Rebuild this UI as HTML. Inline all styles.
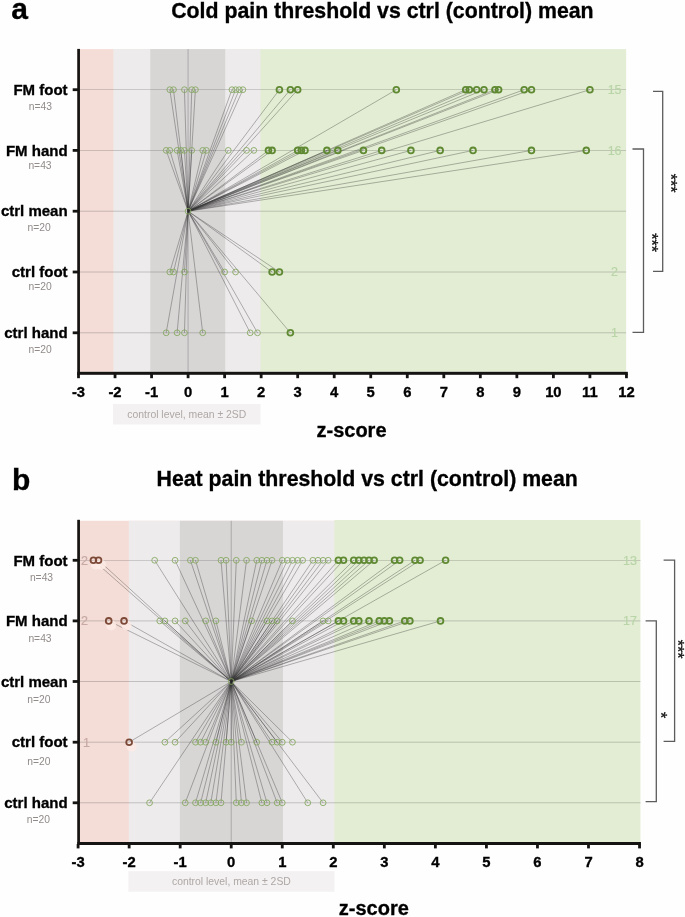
<!DOCTYPE html>
<html lang="en"><head><meta charset="utf-8"><title>Pain threshold z-scores</title>
<style>
html,body{margin:0;padding:0;background:#fefefe;}
body{width:685px;height:917px;overflow:hidden;}
svg{display:block;font-family:'Liberation Sans', Arial, Helvetica, sans-serif;}
</style></head><body>
<svg width="685" height="917" viewBox="0 0 685 917">
<rect width="685" height="917" fill="#fefefe"/>
<g id="panel-a">
<rect x="77.30" y="49.10" width="184.20" height="322.70" fill="#f5ddd7"/>
<rect x="113.40" y="49.10" width="148.10" height="322.70" fill="#edebeb"/>
<rect x="150.30" y="49.10" width="74.90" height="322.70" fill="#d8d5d5"/>
<rect x="260.50" y="49.10" width="365.60" height="322.70" fill="#e3edd4"/>
<rect x="113.00" y="404.00" width="147.50" height="20.5" fill="#f3f1f1"/>
<text x="186.75" y="418.20" font-size="10.4" fill="#aea7a6" text-anchor="middle">control level, mean ± 2SD</text>
<line x1="188.09" y1="49.1" x2="188.09" y2="371.8" stroke="#989696" stroke-width="0.7"/>
<line x1="78.50" y1="89.7" x2="626.10" y2="89.7" stroke="#4a4a4a" stroke-width="0.55" opacity="0.5"/>
<line x1="78.50" y1="150.4" x2="626.10" y2="150.4" stroke="#4a4a4a" stroke-width="0.55" opacity="0.5"/>
<line x1="78.50" y1="211.2" x2="626.10" y2="211.2" stroke="#4a4a4a" stroke-width="0.55" opacity="0.5"/>
<line x1="78.50" y1="272.0" x2="626.10" y2="272.0" stroke="#4a4a4a" stroke-width="0.55" opacity="0.5"/>
<line x1="78.50" y1="332.8" x2="626.10" y2="332.8" stroke="#4a4a4a" stroke-width="0.55" opacity="0.5"/>
<g stroke="#0c0c0c" stroke-width="0.37" fill="none" opacity="0.8">
<line x1="188.09" y1="211.2" x2="169.82" y2="89.7"/>
<line x1="188.09" y1="211.2" x2="173.48" y2="89.7"/>
<line x1="188.09" y1="211.2" x2="184.44" y2="89.7"/>
<line x1="188.09" y1="211.2" x2="191.74" y2="89.7"/>
<line x1="188.09" y1="211.2" x2="195.40" y2="89.7"/>
<line x1="188.09" y1="211.2" x2="231.93" y2="89.7"/>
<line x1="188.09" y1="211.2" x2="235.58" y2="89.7"/>
<line x1="188.09" y1="211.2" x2="239.23" y2="89.7"/>
<line x1="188.09" y1="211.2" x2="242.88" y2="89.7"/>
<line x1="188.09" y1="211.2" x2="279.42" y2="89.7"/>
<line x1="188.09" y1="211.2" x2="290.37" y2="89.7"/>
<line x1="188.09" y1="211.2" x2="297.68" y2="89.7"/>
<line x1="188.09" y1="211.2" x2="396.31" y2="89.7"/>
<line x1="188.09" y1="211.2" x2="465.72" y2="89.7"/>
<line x1="188.09" y1="211.2" x2="469.37" y2="89.7"/>
<line x1="188.09" y1="211.2" x2="476.68" y2="89.7"/>
<line x1="188.09" y1="211.2" x2="483.98" y2="89.7"/>
<line x1="188.09" y1="211.2" x2="494.94" y2="89.7"/>
<line x1="188.09" y1="211.2" x2="498.60" y2="89.7"/>
<line x1="188.09" y1="211.2" x2="524.17" y2="89.7"/>
<line x1="188.09" y1="211.2" x2="531.47" y2="89.7"/>
<line x1="188.09" y1="211.2" x2="589.92" y2="89.7"/>
<line x1="188.09" y1="211.2" x2="166.17" y2="150.4"/>
<line x1="188.09" y1="211.2" x2="169.82" y2="150.4"/>
<line x1="188.09" y1="211.2" x2="177.13" y2="150.4"/>
<line x1="188.09" y1="211.2" x2="180.78" y2="150.4"/>
<line x1="188.09" y1="211.2" x2="184.44" y2="150.4"/>
<line x1="188.09" y1="211.2" x2="191.74" y2="150.4"/>
<line x1="188.09" y1="211.2" x2="202.70" y2="150.4"/>
<line x1="188.09" y1="211.2" x2="206.36" y2="150.4"/>
<line x1="188.09" y1="211.2" x2="228.27" y2="150.4"/>
<line x1="188.09" y1="211.2" x2="246.54" y2="150.4"/>
<line x1="188.09" y1="211.2" x2="253.84" y2="150.4"/>
<line x1="188.09" y1="211.2" x2="268.46" y2="150.4"/>
<line x1="188.09" y1="211.2" x2="272.11" y2="150.4"/>
<line x1="188.09" y1="211.2" x2="297.68" y2="150.4"/>
<line x1="188.09" y1="211.2" x2="301.33" y2="150.4"/>
<line x1="188.09" y1="211.2" x2="304.99" y2="150.4"/>
<line x1="188.09" y1="211.2" x2="326.90" y2="150.4"/>
<line x1="188.09" y1="211.2" x2="337.86" y2="150.4"/>
<line x1="188.09" y1="211.2" x2="363.43" y2="150.4"/>
<line x1="188.09" y1="211.2" x2="381.70" y2="150.4"/>
<line x1="188.09" y1="211.2" x2="410.92" y2="150.4"/>
<line x1="188.09" y1="211.2" x2="440.15" y2="150.4"/>
<line x1="188.09" y1="211.2" x2="473.02" y2="150.4"/>
<line x1="188.09" y1="211.2" x2="531.47" y2="150.4"/>
<line x1="188.09" y1="211.2" x2="586.27" y2="150.4"/>
<line x1="188.09" y1="211.2" x2="169.82" y2="272.0"/>
<line x1="188.09" y1="211.2" x2="173.48" y2="272.0"/>
<line x1="188.09" y1="211.2" x2="184.44" y2="272.0"/>
<line x1="188.09" y1="211.2" x2="224.62" y2="272.0"/>
<line x1="188.09" y1="211.2" x2="235.58" y2="272.0"/>
<line x1="188.09" y1="211.2" x2="272.11" y2="272.0"/>
<line x1="188.09" y1="211.2" x2="279.42" y2="272.0"/>
<line x1="188.09" y1="211.2" x2="166.17" y2="332.8"/>
<line x1="188.09" y1="211.2" x2="177.13" y2="332.8"/>
<line x1="188.09" y1="211.2" x2="184.44" y2="332.8"/>
<line x1="188.09" y1="211.2" x2="202.70" y2="332.8"/>
<line x1="188.09" y1="211.2" x2="250.19" y2="332.8"/>
<line x1="188.09" y1="211.2" x2="257.50" y2="332.8"/>
<line x1="188.09" y1="211.2" x2="290.37" y2="332.8"/>
</g>
<text x="614.6" y="94.10" font-size="12.5" fill="#b9d5a8" stroke="#b9d5a8" stroke-width="0.2" text-anchor="middle">15</text>
<text x="614.6" y="154.80" font-size="12.5" fill="#b9d5a8" stroke="#b9d5a8" stroke-width="0.2" text-anchor="middle">16</text>
<text x="614.6" y="276.40" font-size="12.5" fill="#b9d5a8" stroke="#b9d5a8" stroke-width="0.2" text-anchor="middle">2</text>
<text x="614.6" y="337.20" font-size="12.5" fill="#b9d5a8" stroke="#b9d5a8" stroke-width="0.2" text-anchor="middle">1</text>
<circle cx="169.82" cy="89.7" r="2.9" fill="none" stroke="#82a65c" stroke-width="0.85"/>
<circle cx="173.48" cy="89.7" r="2.9" fill="none" stroke="#82a65c" stroke-width="0.85"/>
<circle cx="184.44" cy="89.7" r="2.9" fill="none" stroke="#82a65c" stroke-width="0.85"/>
<circle cx="191.74" cy="89.7" r="2.9" fill="none" stroke="#82a65c" stroke-width="0.85"/>
<circle cx="195.40" cy="89.7" r="2.9" fill="none" stroke="#82a65c" stroke-width="0.85"/>
<circle cx="231.93" cy="89.7" r="2.9" fill="none" stroke="#82a65c" stroke-width="0.85"/>
<circle cx="235.58" cy="89.7" r="2.9" fill="none" stroke="#82a65c" stroke-width="0.85"/>
<circle cx="239.23" cy="89.7" r="2.9" fill="none" stroke="#82a65c" stroke-width="0.85"/>
<circle cx="242.88" cy="89.7" r="2.9" fill="none" stroke="#82a65c" stroke-width="0.85"/>
<circle cx="279.42" cy="89.7" r="2.9" fill="none" stroke="#5f8a32" stroke-width="1.8"/>
<circle cx="290.37" cy="89.7" r="2.9" fill="none" stroke="#5f8a32" stroke-width="1.8"/>
<circle cx="297.68" cy="89.7" r="2.9" fill="none" stroke="#5f8a32" stroke-width="1.8"/>
<circle cx="396.31" cy="89.7" r="2.9" fill="none" stroke="#5f8a32" stroke-width="1.8"/>
<circle cx="465.72" cy="89.7" r="2.9" fill="none" stroke="#5f8a32" stroke-width="1.8"/>
<circle cx="469.37" cy="89.7" r="2.9" fill="none" stroke="#5f8a32" stroke-width="1.8"/>
<circle cx="476.68" cy="89.7" r="2.9" fill="none" stroke="#5f8a32" stroke-width="1.8"/>
<circle cx="483.98" cy="89.7" r="2.9" fill="none" stroke="#5f8a32" stroke-width="1.8"/>
<circle cx="494.94" cy="89.7" r="2.9" fill="none" stroke="#5f8a32" stroke-width="1.8"/>
<circle cx="498.60" cy="89.7" r="2.9" fill="none" stroke="#5f8a32" stroke-width="1.8"/>
<circle cx="524.17" cy="89.7" r="2.9" fill="none" stroke="#5f8a32" stroke-width="1.8"/>
<circle cx="531.47" cy="89.7" r="2.9" fill="none" stroke="#5f8a32" stroke-width="1.8"/>
<circle cx="589.92" cy="89.7" r="2.9" fill="none" stroke="#5f8a32" stroke-width="1.8"/>
<circle cx="166.17" cy="150.4" r="2.9" fill="none" stroke="#82a65c" stroke-width="0.85"/>
<circle cx="169.82" cy="150.4" r="2.9" fill="none" stroke="#82a65c" stroke-width="0.85"/>
<circle cx="177.13" cy="150.4" r="2.9" fill="none" stroke="#82a65c" stroke-width="0.85"/>
<circle cx="180.78" cy="150.4" r="2.9" fill="none" stroke="#82a65c" stroke-width="0.85"/>
<circle cx="184.44" cy="150.4" r="2.9" fill="none" stroke="#82a65c" stroke-width="0.85"/>
<circle cx="191.74" cy="150.4" r="2.9" fill="none" stroke="#82a65c" stroke-width="0.85"/>
<circle cx="202.70" cy="150.4" r="2.9" fill="none" stroke="#82a65c" stroke-width="0.85"/>
<circle cx="206.36" cy="150.4" r="2.9" fill="none" stroke="#82a65c" stroke-width="0.85"/>
<circle cx="228.27" cy="150.4" r="2.9" fill="none" stroke="#82a65c" stroke-width="0.85"/>
<circle cx="246.54" cy="150.4" r="2.9" fill="none" stroke="#82a65c" stroke-width="0.85"/>
<circle cx="253.84" cy="150.4" r="2.9" fill="none" stroke="#82a65c" stroke-width="0.85"/>
<circle cx="268.46" cy="150.4" r="2.9" fill="none" stroke="#5f8a32" stroke-width="1.8"/>
<circle cx="272.11" cy="150.4" r="2.9" fill="none" stroke="#5f8a32" stroke-width="1.8"/>
<circle cx="297.68" cy="150.4" r="2.9" fill="none" stroke="#5f8a32" stroke-width="1.8"/>
<circle cx="301.33" cy="150.4" r="2.9" fill="none" stroke="#5f8a32" stroke-width="1.8"/>
<circle cx="304.99" cy="150.4" r="2.9" fill="none" stroke="#5f8a32" stroke-width="1.8"/>
<circle cx="326.90" cy="150.4" r="2.9" fill="none" stroke="#5f8a32" stroke-width="1.8"/>
<circle cx="337.86" cy="150.4" r="2.9" fill="none" stroke="#5f8a32" stroke-width="1.8"/>
<circle cx="363.43" cy="150.4" r="2.9" fill="none" stroke="#5f8a32" stroke-width="1.8"/>
<circle cx="381.70" cy="150.4" r="2.9" fill="none" stroke="#5f8a32" stroke-width="1.8"/>
<circle cx="410.92" cy="150.4" r="2.9" fill="none" stroke="#5f8a32" stroke-width="1.8"/>
<circle cx="440.15" cy="150.4" r="2.9" fill="none" stroke="#5f8a32" stroke-width="1.8"/>
<circle cx="473.02" cy="150.4" r="2.9" fill="none" stroke="#5f8a32" stroke-width="1.8"/>
<circle cx="531.47" cy="150.4" r="2.9" fill="none" stroke="#5f8a32" stroke-width="1.8"/>
<circle cx="586.27" cy="150.4" r="2.9" fill="none" stroke="#5f8a32" stroke-width="1.8"/>
<circle cx="169.82" cy="272.0" r="2.9" fill="none" stroke="#82a65c" stroke-width="0.85"/>
<circle cx="173.48" cy="272.0" r="2.9" fill="none" stroke="#82a65c" stroke-width="0.85"/>
<circle cx="184.44" cy="272.0" r="2.9" fill="none" stroke="#82a65c" stroke-width="0.85"/>
<circle cx="224.62" cy="272.0" r="2.9" fill="none" stroke="#82a65c" stroke-width="0.85"/>
<circle cx="235.58" cy="272.0" r="2.9" fill="none" stroke="#82a65c" stroke-width="0.85"/>
<circle cx="272.11" cy="272.0" r="2.9" fill="none" stroke="#5f8a32" stroke-width="1.8"/>
<circle cx="279.42" cy="272.0" r="2.9" fill="none" stroke="#5f8a32" stroke-width="1.8"/>
<circle cx="166.17" cy="332.8" r="2.9" fill="none" stroke="#82a65c" stroke-width="0.85"/>
<circle cx="177.13" cy="332.8" r="2.9" fill="none" stroke="#82a65c" stroke-width="0.85"/>
<circle cx="184.44" cy="332.8" r="2.9" fill="none" stroke="#82a65c" stroke-width="0.85"/>
<circle cx="202.70" cy="332.8" r="2.9" fill="none" stroke="#82a65c" stroke-width="0.85"/>
<circle cx="250.19" cy="332.8" r="2.9" fill="none" stroke="#82a65c" stroke-width="0.85"/>
<circle cx="257.50" cy="332.8" r="2.9" fill="none" stroke="#82a65c" stroke-width="0.85"/>
<circle cx="290.37" cy="332.8" r="2.9" fill="none" stroke="#5f8a32" stroke-width="1.8"/>
<circle cx="188.09" cy="211.2" r="2.9" fill="none" stroke="#82a65c" stroke-width="0.85"/>
<rect x="77.25" y="48.90" width="2.7" height="325.90" fill="#161413"/>
<rect x="77.25" y="371.80" width="550.60" height="3" fill="#161413"/>
<rect x="77.10" y="373.80" width="2.8" height="4.4" fill="#161413"/>
<text x="78.50" y="397.2" font-size="14.8" font-weight="bold" fill="#000" stroke="#000" stroke-width="0.32" text-anchor="middle">-3</text>
<rect x="113.63" y="373.80" width="2.8" height="4.4" fill="#161413"/>
<text x="115.03" y="397.2" font-size="14.8" font-weight="bold" fill="#000" stroke="#000" stroke-width="0.32" text-anchor="middle">-2</text>
<rect x="150.16" y="373.80" width="2.8" height="4.4" fill="#161413"/>
<text x="151.56" y="397.2" font-size="14.8" font-weight="bold" fill="#000" stroke="#000" stroke-width="0.32" text-anchor="middle">-1</text>
<rect x="186.69" y="373.80" width="2.8" height="4.4" fill="#161413"/>
<text x="188.09" y="397.2" font-size="14.8" font-weight="bold" fill="#000" stroke="#000" stroke-width="0.32" text-anchor="middle">0</text>
<rect x="223.22" y="373.80" width="2.8" height="4.4" fill="#161413"/>
<text x="224.62" y="397.2" font-size="14.8" font-weight="bold" fill="#000" stroke="#000" stroke-width="0.32" text-anchor="middle">1</text>
<rect x="259.75" y="373.80" width="2.8" height="4.4" fill="#161413"/>
<text x="261.15" y="397.2" font-size="14.8" font-weight="bold" fill="#000" stroke="#000" stroke-width="0.32" text-anchor="middle">2</text>
<rect x="296.28" y="373.80" width="2.8" height="4.4" fill="#161413"/>
<text x="297.68" y="397.2" font-size="14.8" font-weight="bold" fill="#000" stroke="#000" stroke-width="0.32" text-anchor="middle">3</text>
<rect x="332.81" y="373.80" width="2.8" height="4.4" fill="#161413"/>
<text x="334.21" y="397.2" font-size="14.8" font-weight="bold" fill="#000" stroke="#000" stroke-width="0.32" text-anchor="middle">4</text>
<rect x="369.34" y="373.80" width="2.8" height="4.4" fill="#161413"/>
<text x="370.74" y="397.2" font-size="14.8" font-weight="bold" fill="#000" stroke="#000" stroke-width="0.32" text-anchor="middle">5</text>
<rect x="405.87" y="373.80" width="2.8" height="4.4" fill="#161413"/>
<text x="407.27" y="397.2" font-size="14.8" font-weight="bold" fill="#000" stroke="#000" stroke-width="0.32" text-anchor="middle">6</text>
<rect x="442.40" y="373.80" width="2.8" height="4.4" fill="#161413"/>
<text x="443.80" y="397.2" font-size="14.8" font-weight="bold" fill="#000" stroke="#000" stroke-width="0.32" text-anchor="middle">7</text>
<rect x="478.93" y="373.80" width="2.8" height="4.4" fill="#161413"/>
<text x="480.33" y="397.2" font-size="14.8" font-weight="bold" fill="#000" stroke="#000" stroke-width="0.32" text-anchor="middle">8</text>
<rect x="515.46" y="373.80" width="2.8" height="4.4" fill="#161413"/>
<text x="516.86" y="397.2" font-size="14.8" font-weight="bold" fill="#000" stroke="#000" stroke-width="0.32" text-anchor="middle">9</text>
<rect x="551.99" y="373.80" width="2.8" height="4.4" fill="#161413"/>
<text x="553.39" y="397.2" font-size="14.8" font-weight="bold" fill="#000" stroke="#000" stroke-width="0.32" text-anchor="middle">10</text>
<rect x="588.52" y="373.80" width="2.8" height="4.4" fill="#161413"/>
<text x="589.92" y="397.2" font-size="14.8" font-weight="bold" fill="#000" stroke="#000" stroke-width="0.32" text-anchor="middle">11</text>
<rect x="625.05" y="373.80" width="2.8" height="4.4" fill="#161413"/>
<text x="626.45" y="397.2" font-size="14.8" font-weight="bold" fill="#000" stroke="#000" stroke-width="0.32" text-anchor="middle">12</text>
<rect x="72.70" y="88.30" width="5.5" height="2.8" fill="#161413"/>
<text x="67.6" y="94.90" font-size="15" font-weight="bold" fill="#000" stroke="#000" stroke-width="0.32" text-anchor="end">FM foot</text>
<text x="40.30" y="109.90" font-size="10.3" fill="#918b89" text-anchor="middle">n=43</text>
<rect x="72.70" y="149.00" width="5.5" height="2.8" fill="#161413"/>
<text x="67.6" y="155.60" font-size="15" font-weight="bold" fill="#000" stroke="#000" stroke-width="0.32" text-anchor="end">FM hand</text>
<text x="40.00" y="169.20" font-size="10.3" fill="#918b89" text-anchor="middle">n=43</text>
<rect x="72.70" y="209.80" width="5.5" height="2.8" fill="#161413"/>
<text x="67.6" y="216.40" font-size="15" font-weight="bold" fill="#000" stroke="#000" stroke-width="0.32" text-anchor="end">ctrl mean</text>
<text x="39.10" y="231.30" font-size="10.3" fill="#918b89" text-anchor="middle">n=20</text>
<rect x="72.70" y="270.60" width="5.5" height="2.8" fill="#161413"/>
<text x="67.6" y="277.20" font-size="15" font-weight="bold" fill="#000" stroke="#000" stroke-width="0.32" text-anchor="end">ctrl foot</text>
<text x="40.10" y="290.40" font-size="10.3" fill="#918b89" text-anchor="middle">n=20</text>
<rect x="72.70" y="331.40" width="5.5" height="2.8" fill="#161413"/>
<text x="67.6" y="338.00" font-size="15" font-weight="bold" fill="#000" stroke="#000" stroke-width="0.32" text-anchor="end">ctrl hand</text>
<text x="40.10" y="353.00" font-size="10.3" fill="#918b89" text-anchor="middle">n=20</text>
<text x="11.3" y="18.6" font-size="30" font-weight="bold" fill="#000" stroke="#000" stroke-width="0.32">a</text>
<text x="171.2" y="18.2" font-size="21.3" font-weight="bold" fill="#000" stroke="#000" stroke-width="0.32">Cold pain threshold vs ctrl (control) mean</text>
<text x="351.5" y="436.6" font-size="20" font-weight="bold" fill="#000" stroke="#000" stroke-width="0.32" text-anchor="middle">z-score</text>
<path d="M653 91.4 H662.7 V271.3 H653" fill="none" stroke="#5c5c5c" stroke-width="1.3"/>
<text transform="translate(665.1 183.2) rotate(90)" font-size="16" fill="#111" stroke="#111" stroke-width="0.3" text-anchor="middle">***</text>
<path d="M632.5 149 H643.5 V332.4 H632.5" fill="none" stroke="#5c5c5c" stroke-width="1.3"/>
<text transform="translate(645.5 242.6) rotate(90)" font-size="16" fill="#111" stroke="#111" stroke-width="0.3" text-anchor="middle">***</text>
</g>
<g id="panel-b">
<rect x="77.30" y="520.80" width="258.10" height="321.20" fill="#f5ddd7"/>
<rect x="128.80" y="520.80" width="206.60" height="321.20" fill="#edebeb"/>
<rect x="179.90" y="520.80" width="103.10" height="321.20" fill="#d8d5d5"/>
<rect x="334.40" y="520.00" width="306.04" height="322.00" fill="#e3edd4"/>
<rect x="128.40" y="871.20" width="206.00" height="20.5" fill="#f3f1f1"/>
<text x="231.40" y="885.40" font-size="10.4" fill="#aea7a6" text-anchor="middle">control level, mean ± 2SD</text>
<line x1="231.22" y1="520.8" x2="231.22" y2="842.0" stroke="#989696" stroke-width="0.7"/>
<line x1="78.10" y1="560.3" x2="640.44" y2="560.3" stroke="#4a4a4a" stroke-width="0.55" opacity="0.5"/>
<line x1="78.10" y1="620.9" x2="640.44" y2="620.9" stroke="#4a4a4a" stroke-width="0.55" opacity="0.5"/>
<line x1="78.10" y1="681.5" x2="640.44" y2="681.5" stroke="#4a4a4a" stroke-width="0.55" opacity="0.5"/>
<line x1="78.10" y1="742.2" x2="640.44" y2="742.2" stroke="#4a4a4a" stroke-width="0.55" opacity="0.5"/>
<line x1="78.10" y1="802.8" x2="640.44" y2="802.8" stroke="#4a4a4a" stroke-width="0.55" opacity="0.5"/>
<g stroke="#0c0c0c" stroke-width="0.37" fill="none" opacity="0.8">
<line x1="231.22" y1="681.5" x2="93.41" y2="560.3"/>
<line x1="231.22" y1="681.5" x2="98.52" y2="560.3"/>
<line x1="231.22" y1="681.5" x2="154.66" y2="560.3"/>
<line x1="231.22" y1="681.5" x2="175.08" y2="560.3"/>
<line x1="231.22" y1="681.5" x2="190.39" y2="560.3"/>
<line x1="231.22" y1="681.5" x2="195.49" y2="560.3"/>
<line x1="231.22" y1="681.5" x2="221.01" y2="560.3"/>
<line x1="231.22" y1="681.5" x2="226.12" y2="560.3"/>
<line x1="231.22" y1="681.5" x2="236.32" y2="560.3"/>
<line x1="231.22" y1="681.5" x2="246.53" y2="560.3"/>
<line x1="231.22" y1="681.5" x2="256.74" y2="560.3"/>
<line x1="231.22" y1="681.5" x2="261.84" y2="560.3"/>
<line x1="231.22" y1="681.5" x2="266.95" y2="560.3"/>
<line x1="231.22" y1="681.5" x2="272.05" y2="560.3"/>
<line x1="231.22" y1="681.5" x2="282.26" y2="560.3"/>
<line x1="231.22" y1="681.5" x2="287.36" y2="560.3"/>
<line x1="231.22" y1="681.5" x2="292.47" y2="560.3"/>
<line x1="231.22" y1="681.5" x2="297.57" y2="560.3"/>
<line x1="231.22" y1="681.5" x2="302.68" y2="560.3"/>
<line x1="231.22" y1="681.5" x2="312.88" y2="560.3"/>
<line x1="231.22" y1="681.5" x2="317.99" y2="560.3"/>
<line x1="231.22" y1="681.5" x2="323.09" y2="560.3"/>
<line x1="231.22" y1="681.5" x2="328.20" y2="560.3"/>
<line x1="231.22" y1="681.5" x2="338.40" y2="560.3"/>
<line x1="231.22" y1="681.5" x2="343.51" y2="560.3"/>
<line x1="231.22" y1="681.5" x2="353.72" y2="560.3"/>
<line x1="231.22" y1="681.5" x2="358.82" y2="560.3"/>
<line x1="231.22" y1="681.5" x2="363.92" y2="560.3"/>
<line x1="231.22" y1="681.5" x2="369.03" y2="560.3"/>
<line x1="231.22" y1="681.5" x2="374.13" y2="560.3"/>
<line x1="231.22" y1="681.5" x2="394.55" y2="560.3"/>
<line x1="231.22" y1="681.5" x2="399.65" y2="560.3"/>
<line x1="231.22" y1="681.5" x2="414.96" y2="560.3"/>
<line x1="231.22" y1="681.5" x2="420.07" y2="560.3"/>
<line x1="231.22" y1="681.5" x2="445.59" y2="560.3"/>
<line x1="231.22" y1="681.5" x2="108.72" y2="620.9"/>
<line x1="231.22" y1="681.5" x2="124.04" y2="620.9"/>
<line x1="231.22" y1="681.5" x2="159.76" y2="620.9"/>
<line x1="231.22" y1="681.5" x2="164.87" y2="620.9"/>
<line x1="231.22" y1="681.5" x2="175.08" y2="620.9"/>
<line x1="231.22" y1="681.5" x2="185.28" y2="620.9"/>
<line x1="231.22" y1="681.5" x2="205.70" y2="620.9"/>
<line x1="231.22" y1="681.5" x2="215.91" y2="620.9"/>
<line x1="231.22" y1="681.5" x2="251.64" y2="620.9"/>
<line x1="231.22" y1="681.5" x2="266.95" y2="620.9"/>
<line x1="231.22" y1="681.5" x2="272.05" y2="620.9"/>
<line x1="231.22" y1="681.5" x2="277.16" y2="620.9"/>
<line x1="231.22" y1="681.5" x2="292.47" y2="620.9"/>
<line x1="231.22" y1="681.5" x2="323.09" y2="620.9"/>
<line x1="231.22" y1="681.5" x2="328.20" y2="620.9"/>
<line x1="231.22" y1="681.5" x2="338.40" y2="620.9"/>
<line x1="231.22" y1="681.5" x2="343.51" y2="620.9"/>
<line x1="231.22" y1="681.5" x2="353.72" y2="620.9"/>
<line x1="231.22" y1="681.5" x2="358.82" y2="620.9"/>
<line x1="231.22" y1="681.5" x2="369.03" y2="620.9"/>
<line x1="231.22" y1="681.5" x2="379.24" y2="620.9"/>
<line x1="231.22" y1="681.5" x2="384.34" y2="620.9"/>
<line x1="231.22" y1="681.5" x2="389.44" y2="620.9"/>
<line x1="231.22" y1="681.5" x2="404.76" y2="620.9"/>
<line x1="231.22" y1="681.5" x2="409.86" y2="620.9"/>
<line x1="231.22" y1="681.5" x2="440.48" y2="620.9"/>
<line x1="231.22" y1="681.5" x2="129.14" y2="742.2"/>
<line x1="231.22" y1="681.5" x2="164.87" y2="742.2"/>
<line x1="231.22" y1="681.5" x2="175.08" y2="742.2"/>
<line x1="231.22" y1="681.5" x2="195.49" y2="742.2"/>
<line x1="231.22" y1="681.5" x2="200.60" y2="742.2"/>
<line x1="231.22" y1="681.5" x2="205.70" y2="742.2"/>
<line x1="231.22" y1="681.5" x2="215.91" y2="742.2"/>
<line x1="231.22" y1="681.5" x2="226.12" y2="742.2"/>
<line x1="231.22" y1="681.5" x2="231.22" y2="742.2"/>
<line x1="231.22" y1="681.5" x2="241.43" y2="742.2"/>
<line x1="231.22" y1="681.5" x2="256.74" y2="742.2"/>
<line x1="231.22" y1="681.5" x2="272.05" y2="742.2"/>
<line x1="231.22" y1="681.5" x2="277.16" y2="742.2"/>
<line x1="231.22" y1="681.5" x2="282.26" y2="742.2"/>
<line x1="231.22" y1="681.5" x2="292.47" y2="742.2"/>
<line x1="231.22" y1="681.5" x2="149.56" y2="802.8"/>
<line x1="231.22" y1="681.5" x2="185.28" y2="802.8"/>
<line x1="231.22" y1="681.5" x2="195.49" y2="802.8"/>
<line x1="231.22" y1="681.5" x2="200.60" y2="802.8"/>
<line x1="231.22" y1="681.5" x2="205.70" y2="802.8"/>
<line x1="231.22" y1="681.5" x2="210.80" y2="802.8"/>
<line x1="231.22" y1="681.5" x2="215.91" y2="802.8"/>
<line x1="231.22" y1="681.5" x2="221.01" y2="802.8"/>
<line x1="231.22" y1="681.5" x2="236.32" y2="802.8"/>
<line x1="231.22" y1="681.5" x2="241.43" y2="802.8"/>
<line x1="231.22" y1="681.5" x2="246.53" y2="802.8"/>
<line x1="231.22" y1="681.5" x2="261.84" y2="802.8"/>
<line x1="231.22" y1="681.5" x2="266.95" y2="802.8"/>
<line x1="231.22" y1="681.5" x2="277.16" y2="802.8"/>
<line x1="231.22" y1="681.5" x2="282.26" y2="802.8"/>
<line x1="231.22" y1="681.5" x2="307.78" y2="802.8"/>
<line x1="231.22" y1="681.5" x2="323.09" y2="802.8"/>
</g>
<text x="630" y="564.70" font-size="12.5" fill="#b9d5a8" stroke="#b9d5a8" stroke-width="0.2" text-anchor="middle">13</text>
<text x="630" y="625.30" font-size="12.5" fill="#b9d5a8" stroke="#b9d5a8" stroke-width="0.2" text-anchor="middle">17</text>
<text x="84.6" y="564.70" font-size="12.5" fill="#c6aaa4" stroke="#c6aaa4" stroke-width="0.2" text-anchor="middle">2</text>
<text x="84.6" y="625.30" font-size="12.5" fill="#c6aaa4" stroke="#c6aaa4" stroke-width="0.2" text-anchor="middle">2</text>
<text x="86.6" y="746.60" font-size="12.5" fill="#c6aaa4" stroke="#c6aaa4" stroke-width="0.2" text-anchor="middle">1</text>
<circle cx="95.91" cy="564.8" r="5" fill="#fdebe5" opacity="0.85"/>
<circle cx="93.41" cy="560.3" r="2.9" fill="none" stroke="#7d4a38" stroke-width="1.8"/>
<circle cx="101.02" cy="564.8" r="5" fill="#fdebe5" opacity="0.85"/>
<circle cx="98.52" cy="560.3" r="2.9" fill="none" stroke="#7d4a38" stroke-width="1.8"/>
<circle cx="154.66" cy="560.3" r="2.9" fill="none" stroke="#82a65c" stroke-width="0.85"/>
<circle cx="175.08" cy="560.3" r="2.9" fill="none" stroke="#82a65c" stroke-width="0.85"/>
<circle cx="190.39" cy="560.3" r="2.9" fill="none" stroke="#82a65c" stroke-width="0.85"/>
<circle cx="195.49" cy="560.3" r="2.9" fill="none" stroke="#82a65c" stroke-width="0.85"/>
<circle cx="221.01" cy="560.3" r="2.9" fill="none" stroke="#82a65c" stroke-width="0.85"/>
<circle cx="226.12" cy="560.3" r="2.9" fill="none" stroke="#82a65c" stroke-width="0.85"/>
<circle cx="236.32" cy="560.3" r="2.9" fill="none" stroke="#82a65c" stroke-width="0.85"/>
<circle cx="246.53" cy="560.3" r="2.9" fill="none" stroke="#82a65c" stroke-width="0.85"/>
<circle cx="256.74" cy="560.3" r="2.9" fill="none" stroke="#82a65c" stroke-width="0.85"/>
<circle cx="261.84" cy="560.3" r="2.9" fill="none" stroke="#82a65c" stroke-width="0.85"/>
<circle cx="266.95" cy="560.3" r="2.9" fill="none" stroke="#82a65c" stroke-width="0.85"/>
<circle cx="272.05" cy="560.3" r="2.9" fill="none" stroke="#82a65c" stroke-width="0.85"/>
<circle cx="282.26" cy="560.3" r="2.9" fill="none" stroke="#82a65c" stroke-width="0.85"/>
<circle cx="287.36" cy="560.3" r="2.9" fill="none" stroke="#82a65c" stroke-width="0.85"/>
<circle cx="292.47" cy="560.3" r="2.9" fill="none" stroke="#82a65c" stroke-width="0.85"/>
<circle cx="297.57" cy="560.3" r="2.9" fill="none" stroke="#82a65c" stroke-width="0.85"/>
<circle cx="302.68" cy="560.3" r="2.9" fill="none" stroke="#82a65c" stroke-width="0.85"/>
<circle cx="312.88" cy="560.3" r="2.9" fill="none" stroke="#82a65c" stroke-width="0.85"/>
<circle cx="317.99" cy="560.3" r="2.9" fill="none" stroke="#82a65c" stroke-width="0.85"/>
<circle cx="323.09" cy="560.3" r="2.9" fill="none" stroke="#82a65c" stroke-width="0.85"/>
<circle cx="328.20" cy="560.3" r="2.9" fill="none" stroke="#82a65c" stroke-width="0.85"/>
<circle cx="338.40" cy="560.3" r="2.9" fill="none" stroke="#5f8a32" stroke-width="1.8"/>
<circle cx="343.51" cy="560.3" r="2.9" fill="none" stroke="#5f8a32" stroke-width="1.8"/>
<circle cx="353.72" cy="560.3" r="2.9" fill="none" stroke="#5f8a32" stroke-width="1.8"/>
<circle cx="358.82" cy="560.3" r="2.9" fill="none" stroke="#5f8a32" stroke-width="1.8"/>
<circle cx="363.92" cy="560.3" r="2.9" fill="none" stroke="#5f8a32" stroke-width="1.8"/>
<circle cx="369.03" cy="560.3" r="2.9" fill="none" stroke="#5f8a32" stroke-width="1.8"/>
<circle cx="374.13" cy="560.3" r="2.9" fill="none" stroke="#5f8a32" stroke-width="1.8"/>
<circle cx="394.55" cy="560.3" r="2.9" fill="none" stroke="#5f8a32" stroke-width="1.8"/>
<circle cx="399.65" cy="560.3" r="2.9" fill="none" stroke="#5f8a32" stroke-width="1.8"/>
<circle cx="414.96" cy="560.3" r="2.9" fill="none" stroke="#5f8a32" stroke-width="1.8"/>
<circle cx="420.07" cy="560.3" r="2.9" fill="none" stroke="#5f8a32" stroke-width="1.8"/>
<circle cx="445.59" cy="560.3" r="2.9" fill="none" stroke="#5f8a32" stroke-width="1.8"/>
<circle cx="111.22" cy="625.4" r="5" fill="#fdebe5" opacity="0.85"/>
<circle cx="108.72" cy="620.9" r="2.9" fill="none" stroke="#7d4a38" stroke-width="1.8"/>
<circle cx="126.54" cy="625.4" r="5" fill="#fdebe5" opacity="0.85"/>
<circle cx="124.04" cy="620.9" r="2.9" fill="none" stroke="#7d4a38" stroke-width="1.8"/>
<circle cx="159.76" cy="620.9" r="2.9" fill="none" stroke="#82a65c" stroke-width="0.85"/>
<circle cx="164.87" cy="620.9" r="2.9" fill="none" stroke="#82a65c" stroke-width="0.85"/>
<circle cx="175.08" cy="620.9" r="2.9" fill="none" stroke="#82a65c" stroke-width="0.85"/>
<circle cx="185.28" cy="620.9" r="2.9" fill="none" stroke="#82a65c" stroke-width="0.85"/>
<circle cx="205.70" cy="620.9" r="2.9" fill="none" stroke="#82a65c" stroke-width="0.85"/>
<circle cx="215.91" cy="620.9" r="2.9" fill="none" stroke="#82a65c" stroke-width="0.85"/>
<circle cx="251.64" cy="620.9" r="2.9" fill="none" stroke="#82a65c" stroke-width="0.85"/>
<circle cx="266.95" cy="620.9" r="2.9" fill="none" stroke="#82a65c" stroke-width="0.85"/>
<circle cx="272.05" cy="620.9" r="2.9" fill="none" stroke="#82a65c" stroke-width="0.85"/>
<circle cx="277.16" cy="620.9" r="2.9" fill="none" stroke="#82a65c" stroke-width="0.85"/>
<circle cx="292.47" cy="620.9" r="2.9" fill="none" stroke="#82a65c" stroke-width="0.85"/>
<circle cx="323.09" cy="620.9" r="2.9" fill="none" stroke="#82a65c" stroke-width="0.85"/>
<circle cx="328.20" cy="620.9" r="2.9" fill="none" stroke="#82a65c" stroke-width="0.85"/>
<circle cx="338.40" cy="620.9" r="2.9" fill="none" stroke="#5f8a32" stroke-width="1.8"/>
<circle cx="343.51" cy="620.9" r="2.9" fill="none" stroke="#5f8a32" stroke-width="1.8"/>
<circle cx="353.72" cy="620.9" r="2.9" fill="none" stroke="#5f8a32" stroke-width="1.8"/>
<circle cx="358.82" cy="620.9" r="2.9" fill="none" stroke="#5f8a32" stroke-width="1.8"/>
<circle cx="369.03" cy="620.9" r="2.9" fill="none" stroke="#5f8a32" stroke-width="1.8"/>
<circle cx="379.24" cy="620.9" r="2.9" fill="none" stroke="#5f8a32" stroke-width="1.8"/>
<circle cx="384.34" cy="620.9" r="2.9" fill="none" stroke="#5f8a32" stroke-width="1.8"/>
<circle cx="389.44" cy="620.9" r="2.9" fill="none" stroke="#5f8a32" stroke-width="1.8"/>
<circle cx="404.76" cy="620.9" r="2.9" fill="none" stroke="#5f8a32" stroke-width="1.8"/>
<circle cx="409.86" cy="620.9" r="2.9" fill="none" stroke="#5f8a32" stroke-width="1.8"/>
<circle cx="440.48" cy="620.9" r="2.9" fill="none" stroke="#5f8a32" stroke-width="1.8"/>
<circle cx="131.64" cy="746.7" r="5" fill="#fdebe5" opacity="0.85"/>
<circle cx="129.14" cy="742.2" r="2.9" fill="none" stroke="#7d4a38" stroke-width="1.8"/>
<circle cx="164.87" cy="742.2" r="2.9" fill="none" stroke="#82a65c" stroke-width="0.85"/>
<circle cx="175.08" cy="742.2" r="2.9" fill="none" stroke="#82a65c" stroke-width="0.85"/>
<circle cx="195.49" cy="742.2" r="2.9" fill="none" stroke="#82a65c" stroke-width="0.85"/>
<circle cx="200.60" cy="742.2" r="2.9" fill="none" stroke="#82a65c" stroke-width="0.85"/>
<circle cx="205.70" cy="742.2" r="2.9" fill="none" stroke="#82a65c" stroke-width="0.85"/>
<circle cx="215.91" cy="742.2" r="2.9" fill="none" stroke="#82a65c" stroke-width="0.85"/>
<circle cx="226.12" cy="742.2" r="2.9" fill="none" stroke="#82a65c" stroke-width="0.85"/>
<circle cx="231.22" cy="742.2" r="2.9" fill="none" stroke="#82a65c" stroke-width="0.85"/>
<circle cx="241.43" cy="742.2" r="2.9" fill="none" stroke="#82a65c" stroke-width="0.85"/>
<circle cx="256.74" cy="742.2" r="2.9" fill="none" stroke="#82a65c" stroke-width="0.85"/>
<circle cx="272.05" cy="742.2" r="2.9" fill="none" stroke="#82a65c" stroke-width="0.85"/>
<circle cx="277.16" cy="742.2" r="2.9" fill="none" stroke="#82a65c" stroke-width="0.85"/>
<circle cx="282.26" cy="742.2" r="2.9" fill="none" stroke="#82a65c" stroke-width="0.85"/>
<circle cx="292.47" cy="742.2" r="2.9" fill="none" stroke="#82a65c" stroke-width="0.85"/>
<circle cx="149.56" cy="802.8" r="2.9" fill="none" stroke="#82a65c" stroke-width="0.85"/>
<circle cx="185.28" cy="802.8" r="2.9" fill="none" stroke="#82a65c" stroke-width="0.85"/>
<circle cx="195.49" cy="802.8" r="2.9" fill="none" stroke="#82a65c" stroke-width="0.85"/>
<circle cx="200.60" cy="802.8" r="2.9" fill="none" stroke="#82a65c" stroke-width="0.85"/>
<circle cx="205.70" cy="802.8" r="2.9" fill="none" stroke="#82a65c" stroke-width="0.85"/>
<circle cx="210.80" cy="802.8" r="2.9" fill="none" stroke="#82a65c" stroke-width="0.85"/>
<circle cx="215.91" cy="802.8" r="2.9" fill="none" stroke="#82a65c" stroke-width="0.85"/>
<circle cx="221.01" cy="802.8" r="2.9" fill="none" stroke="#82a65c" stroke-width="0.85"/>
<circle cx="236.32" cy="802.8" r="2.9" fill="none" stroke="#82a65c" stroke-width="0.85"/>
<circle cx="241.43" cy="802.8" r="2.9" fill="none" stroke="#82a65c" stroke-width="0.85"/>
<circle cx="246.53" cy="802.8" r="2.9" fill="none" stroke="#82a65c" stroke-width="0.85"/>
<circle cx="261.84" cy="802.8" r="2.9" fill="none" stroke="#82a65c" stroke-width="0.85"/>
<circle cx="266.95" cy="802.8" r="2.9" fill="none" stroke="#82a65c" stroke-width="0.85"/>
<circle cx="277.16" cy="802.8" r="2.9" fill="none" stroke="#82a65c" stroke-width="0.85"/>
<circle cx="282.26" cy="802.8" r="2.9" fill="none" stroke="#82a65c" stroke-width="0.85"/>
<circle cx="307.78" cy="802.8" r="2.9" fill="none" stroke="#82a65c" stroke-width="0.85"/>
<circle cx="323.09" cy="802.8" r="2.9" fill="none" stroke="#82a65c" stroke-width="0.85"/>
<circle cx="231.22" cy="681.5" r="2.9" fill="none" stroke="#82a65c" stroke-width="0.85"/>
<rect x="77.25" y="519.80" width="2.7" height="325.20" fill="#161413"/>
<rect x="77.25" y="842.00" width="563.69" height="3" fill="#161413"/>
<rect x="76.70" y="844.00" width="2.8" height="4.4" fill="#161413"/>
<text x="78.10" y="867.2" font-size="14.8" font-weight="bold" fill="#000" stroke="#000" stroke-width="0.32" text-anchor="middle">-3</text>
<rect x="127.74" y="844.00" width="2.8" height="4.4" fill="#161413"/>
<text x="129.14" y="867.2" font-size="14.8" font-weight="bold" fill="#000" stroke="#000" stroke-width="0.32" text-anchor="middle">-2</text>
<rect x="178.78" y="844.00" width="2.8" height="4.4" fill="#161413"/>
<text x="180.18" y="867.2" font-size="14.8" font-weight="bold" fill="#000" stroke="#000" stroke-width="0.32" text-anchor="middle">-1</text>
<rect x="229.82" y="844.00" width="2.8" height="4.4" fill="#161413"/>
<text x="231.22" y="867.2" font-size="14.8" font-weight="bold" fill="#000" stroke="#000" stroke-width="0.32" text-anchor="middle">0</text>
<rect x="280.86" y="844.00" width="2.8" height="4.4" fill="#161413"/>
<text x="282.26" y="867.2" font-size="14.8" font-weight="bold" fill="#000" stroke="#000" stroke-width="0.32" text-anchor="middle">1</text>
<rect x="331.90" y="844.00" width="2.8" height="4.4" fill="#161413"/>
<text x="333.30" y="867.2" font-size="14.8" font-weight="bold" fill="#000" stroke="#000" stroke-width="0.32" text-anchor="middle">2</text>
<rect x="382.94" y="844.00" width="2.8" height="4.4" fill="#161413"/>
<text x="384.34" y="867.2" font-size="14.8" font-weight="bold" fill="#000" stroke="#000" stroke-width="0.32" text-anchor="middle">3</text>
<rect x="433.98" y="844.00" width="2.8" height="4.4" fill="#161413"/>
<text x="435.38" y="867.2" font-size="14.8" font-weight="bold" fill="#000" stroke="#000" stroke-width="0.32" text-anchor="middle">4</text>
<rect x="485.02" y="844.00" width="2.8" height="4.4" fill="#161413"/>
<text x="486.42" y="867.2" font-size="14.8" font-weight="bold" fill="#000" stroke="#000" stroke-width="0.32" text-anchor="middle">5</text>
<rect x="536.06" y="844.00" width="2.8" height="4.4" fill="#161413"/>
<text x="537.46" y="867.2" font-size="14.8" font-weight="bold" fill="#000" stroke="#000" stroke-width="0.32" text-anchor="middle">6</text>
<rect x="587.10" y="844.00" width="2.8" height="4.4" fill="#161413"/>
<text x="588.50" y="867.2" font-size="14.8" font-weight="bold" fill="#000" stroke="#000" stroke-width="0.32" text-anchor="middle">7</text>
<rect x="638.14" y="844.00" width="2.8" height="4.4" fill="#161413"/>
<text x="639.54" y="867.2" font-size="14.8" font-weight="bold" fill="#000" stroke="#000" stroke-width="0.32" text-anchor="middle">8</text>
<rect x="72.70" y="558.90" width="5.5" height="2.8" fill="#161413"/>
<text x="67.6" y="565.50" font-size="15" font-weight="bold" fill="#000" stroke="#000" stroke-width="0.32" text-anchor="end">FM foot</text>
<text x="41.50" y="580.70" font-size="10.3" fill="#918b89" text-anchor="middle">n=43</text>
<rect x="72.70" y="619.50" width="5.5" height="2.8" fill="#161413"/>
<text x="67.6" y="626.10" font-size="15" font-weight="bold" fill="#000" stroke="#000" stroke-width="0.32" text-anchor="end">FM hand</text>
<text x="40.00" y="642.00" font-size="10.3" fill="#918b89" text-anchor="middle">n=43</text>
<rect x="72.70" y="680.10" width="5.5" height="2.8" fill="#161413"/>
<text x="67.6" y="686.70" font-size="15" font-weight="bold" fill="#000" stroke="#000" stroke-width="0.32" text-anchor="end">ctrl mean</text>
<text x="38.90" y="702.60" font-size="10.3" fill="#918b89" text-anchor="middle">n=20</text>
<rect x="72.70" y="740.80" width="5.5" height="2.8" fill="#161413"/>
<text x="67.6" y="747.40" font-size="15" font-weight="bold" fill="#000" stroke="#000" stroke-width="0.32" text-anchor="end">ctrl foot</text>
<text x="38.90" y="764.80" font-size="10.3" fill="#918b89" text-anchor="middle">n=20</text>
<rect x="72.70" y="801.40" width="5.5" height="2.8" fill="#161413"/>
<text x="67.6" y="808.00" font-size="15" font-weight="bold" fill="#000" stroke="#000" stroke-width="0.32" text-anchor="end">ctrl hand</text>
<text x="38.40" y="822.60" font-size="10.3" fill="#918b89" text-anchor="middle">n=20</text>
<text x="12" y="490" font-size="30" font-weight="bold" fill="#000" stroke="#000" stroke-width="0.32">b</text>
<text x="156.5" y="485.7" font-size="21.3" font-weight="bold" fill="#000" stroke="#000" stroke-width="0.32">Heat pain threshold vs ctrl (control) mean</text>
<text x="373.8" y="914.7" font-size="20" font-weight="bold" fill="#000" stroke="#000" stroke-width="0.32" text-anchor="middle">z-score</text>
<path d="M663.6 560.1 H674.6 V741.3 H663.6" fill="none" stroke="#5c5c5c" stroke-width="1.3"/>
<text transform="translate(671.5 649.1) rotate(90)" font-size="16" fill="#111" stroke="#111" stroke-width="0.3" text-anchor="middle">***</text>
<path d="M645.6 620.8 H656.3 V801.7 H645.6" fill="none" stroke="#5c5c5c" stroke-width="1.3"/>
<text transform="translate(654.8 715.2) rotate(90)" font-size="16" fill="#111" stroke="#111" stroke-width="0.3" text-anchor="middle">*</text>
</g>
</svg>
</body></html>
